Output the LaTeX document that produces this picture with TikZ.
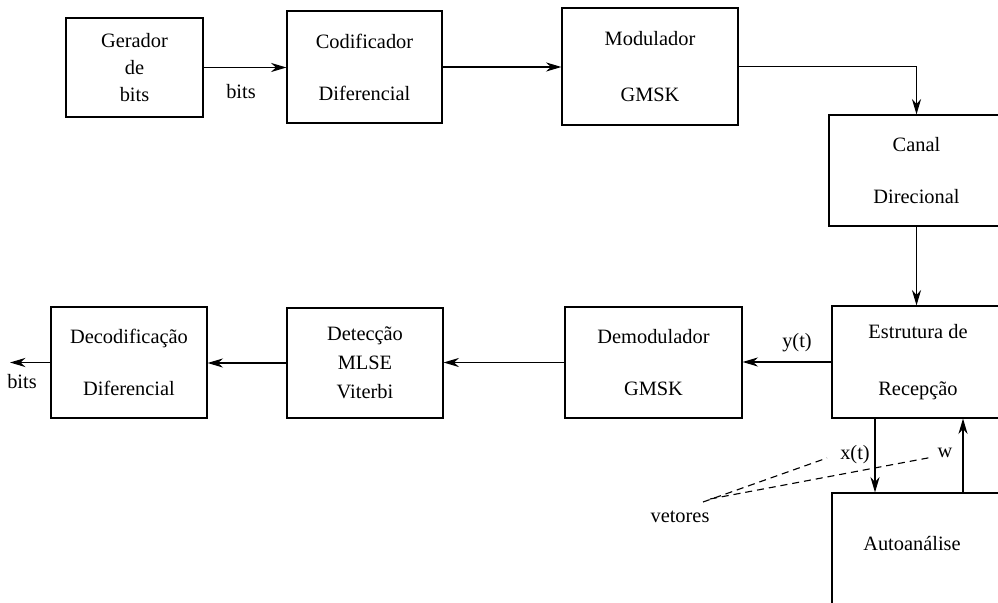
\documentclass[tikz,border=0pt]{standalone}
\usepackage{fontspec}
\setmainfont{Liberation Serif}
\usetikzlibrary{arrows.meta,positioning}

\begin{document}
\begin{tikzpicture}[x=0.025cm,y=-0.025cm,font=\fontsize{14.5}{17}\selectfont,
  box/.style={draw,line width=0.8pt,align=center,inner sep=0pt},
  ar/.style={-{Stealth[length=11pt,width=6.5pt]},line width=0.8pt},
  vet/.style={line width=0.8pt,dash pattern=on 5pt off 3.5pt}]
\clip (0,0) rectangle (998,603);
% linha de transmissao
\node[box,minimum width=3.425cm,minimum height=2.475cm] (gen) at (134.5,67.5) {Gerador\\[2.5pt]de\\[2.5pt]bits};
\node[box,minimum width=3.875cm,minimum height=2.8cm] (cod) at (364.5,67) {Codificador\\[20pt]Diferencial};
\node[box,minimum width=4.4cm,minimum height=2.925cm] (mod) at (650,66.5) {Modulador\\[23.4pt]GMSK};
\node[box,minimum width=4.375cm,minimum height=2.775cm] (can) at (916.5,170.5) {Canal\\[20pt]Direcional};
% linha de recepcao
\node[box,minimum width=4.3cm,minimum height=2.8cm] (est) at (918,362) {Estrutura de\\[23.4pt]Recepção};
\node[box,minimum width=4.425cm,minimum height=2.775cm] (dem) at (653.5,362.5) {Demodulador\\[20.6pt]GMSK};
\node[box,minimum width=3.9cm,minimum height=2.75cm] (det) at (365,363) {Detecção\\[3.6pt]MLSE\\[3.6pt]Viterbi};
\node[box,minimum width=3.9cm,minimum height=2.775cm] (dec) at (129,362.5) {Decodificação\\[20pt]Diferencial};
\node[box,minimum width=4.3cm,minimum height=3.675cm] (aut) at (918,566.5) {};
\node (autl) at (912,544) {Autoanálise};
\coordinate (out) at (10,362.5);
\coordinate (xcol) at (875,0);
\coordinate (wcol) at (963,0);
\draw[ar] (gen.east) -- (gen.east -| cod.west);
\draw[ar] (cod.east) -- (cod.east -| mod.west);
\draw[ar] (mod.east) -| (can.north);
\draw[ar] (can.south) -- (can.south |- est.north);
\draw[ar] (est.west) -- (est.west -| dem.east);
\draw[ar] (dem.west) -- (dem.west -| det.east);
\draw[ar] (det.west) -- (det.west -| dec.east);
\draw[ar] (dec.west) -- (out);
\draw[ar] (xcol |- est.south) -- (xcol |- aut.north);
\draw[ar] (wcol |- aut.north) -- (wcol |- est.south);
\node (bits1) at (241,92) {bits};
\node (bits2) at (22,382) {bits};
\node (yt) at (797,343) {y(t)};
\node (xt) at (855,455) {x(t)};
\node (w) at (945,453) {w};
\node (vetores) at (680,517) {vetores};
\coordinate (v1) at (703,502);
\coordinate (v2) at (710,499);
\draw[vet] (v1) -- (827,458);
\draw[vet] (v2) -- (933,457);
\end{tikzpicture}
\end{document}
